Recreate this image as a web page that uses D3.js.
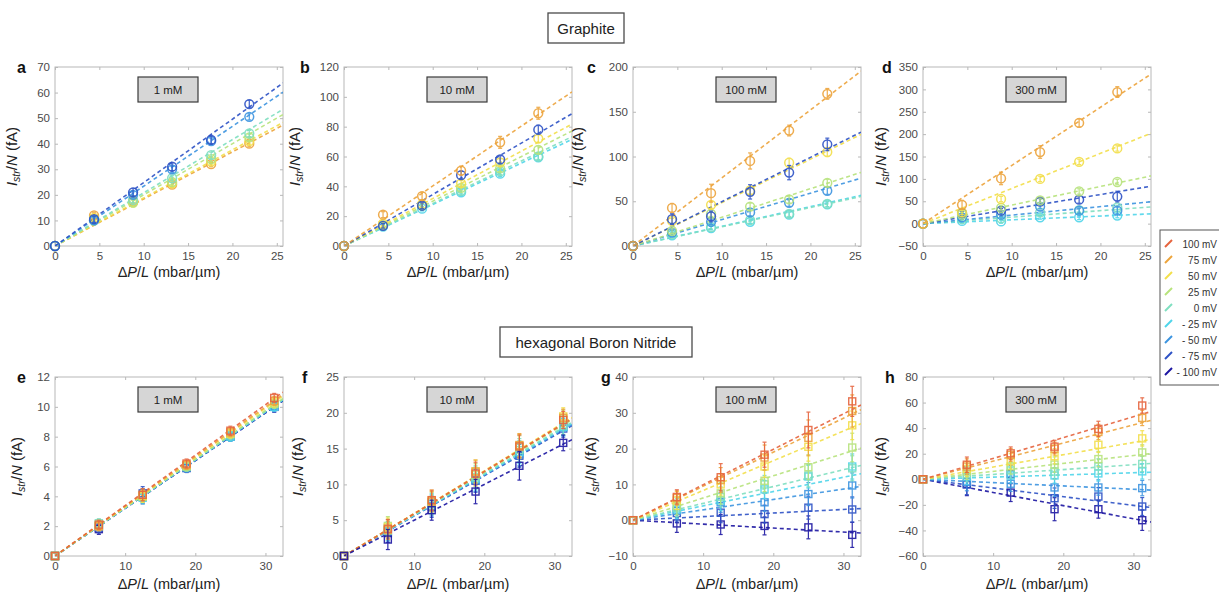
<!DOCTYPE html>
<html>
<head>
<meta charset="utf-8">
<script src="https://cdn.jsdelivr.net/npm/d3@7"></script>
<style>
  html, body { margin: 0; padding: 0; background: #fff; }
  svg { display: block; font-family: "Liberation Sans", Arial, Helvetica, sans-serif; }
</style>
</head>
<body>
<svg id="fig" width="1219" height="592"></svg>
<script>
// Bias voltages (legend order) and their colours
const voltLabels = ["100 mV", "75 mV", "50 mV", "25 mV", "0 mV", "- 25 mV", "- 50 mV", "- 75 mV", "- 100 mV"];
const voltColors = ["#e6643e", "#eda43c", "#f3df4a", "#b7e37c", "#7fdfc0", "#4fd5ea", "#3c94e0", "#2d52c6", "#1c16a2"];

// Pressure gradients (mbar/µm)
const graphiteX = [0, 4.4, 8.8, 13.2, 17.6, 21.9];
const hbnX = [0, 6.25, 12.5, 18.75, 25, 31.25];

// Graphite, 1 mM — vi = index into voltLabels
const graphite1 = [
  { vi: 1, y: [0, 12, 17.5, 24, 32, 40], err: [0, 1, 1, 1, 1, 1.2], slope: 1.84 },
  { vi: 2, y: [0, 11, 17, 24.5, 33, 41], err: [0, 1, 1, 1, 1, 1.2], slope: 1.88 },
  { vi: 3, y: [0, 10, 17, 25, 34, 42.5], err: [0, 1, 1, 1, 1, 1.2], slope: 2.0 },
  { vi: 4, y: [0, 10, 18, 26.5, 35.5, 44], err: [0, 1, 1, 1, 1.2, 1.2], slope: 2.08 },
  { vi: 6, y: [0, 10, 20, 30, 41, 50.5], err: [0, 1, 1.2, 1.2, 1.2, 1.2], slope: 2.34 },
  { vi: 7, y: [0, 10.5, 21, 31, 41.5, 55.5], err: [0, 1.2, 1.5, 1.5, 1.5, 1.5], slope: 2.48 }
];
// Graphite, 10 mM
const graphite10 = [
  { vi: 5, y: [0, 13, 25, 36, 48.5, 59.5], err: [0, 1.5, 1.5, 2, 2, 2], slope: 2.78 },
  { vi: 4, y: [0, 13.5, 27, 37, 50, 60], err: [0, 1.5, 1.5, 2, 2, 2], slope: 2.85 },
  { vi: 3, y: [0, 14, 27, 39, 52, 64.5], err: [0, 1.5, 1.5, 2, 2, 2.5], slope: 3.0 },
  { vi: 2, y: [0, 15, 28, 42, 56, 72], err: [0, 1.5, 2, 2, 2.5, 2.5], slope: 3.18 },
  { vi: 7, y: [0, 13.5, 27, 47.5, 58, 78], err: [0, 1.5, 2, 2.5, 2.5, 3], slope: 3.45 },
  { vi: 1, y: [0, 21, 33.5, 50.5, 69.5, 89], err: [0, 2, 2.5, 3, 4, 4], slope: 4.02 }
];
// Graphite, 100 mM
const graphite100 = [
  { vi: 5, y: [0, 12, 20, 27, 35, 46.5], err: [0, 2, 2, 2, 3, 3], slope: 2.2 },
  { vi: 4, y: [0, 13, 21, 29, 36, 47], err: [0, 2, 2, 2, 3, 3], slope: 2.15 },
  { vi: 6, y: [0, 15, 27, 37.5, 48.3, 61.7], err: [0, 3, 3, 4, 4, 4], slope: 2.95 },
  { vi: 3, y: [0, 17, 36, 44, 52, 70.5], err: [0, 3, 3, 4, 4, 4], slope: 3.2 },
  { vi: 2, y: [0, 28, 46, 62, 93, 105], err: [0, 3, 4, 4, 5, 5], slope: 4.85 },
  { vi: 7, y: [0, 30, 33, 60.5, 82, 113.5], err: [0, 6, 6, 8, 8, 7], slope: 4.95 },
  { vi: 1, y: [0, 42.5, 59, 95, 129, 170], err: [0, 5, 10, 9, 6, 6], slope: 7.6 }
];
// Graphite, 300 mM
const graphite300 = [
  { vi: 5, y: [0, 6, 5, 14, 14, 18], err: [0, 4, 4, 4, 5, 5], slope: 0.85 },
  { vi: 4, y: [0, 10, 12, 25, 30, 36], err: [0, 4, 4, 5, 5, 5], slope: 1.45 },
  { vi: 6, y: [0, 14, 20, 38, 29, 29], err: [0, 4, 5, 5, 6, 8], slope: 1.9 },
  { vi: 7, y: [0, 23.6, 29, 49, 53.6, 60.4], err: [0, 4, 5, 7, 8, 12], slope: 3.25 },
  { vi: 3, y: [0, 20, 35, 52, 72, 93], err: [0, 5, 5, 5, 6, 6], slope: 4.15 },
  { vi: 2, y: [0, 25, 55, 100, 138, 168], err: [0, 5, 6, 6, 6, 6], slope: 7.85 },
  { vi: 1, y: [0, 42, 101, 160, 225, 294], err: [0, 10, 14, 14, 9, 12], slope: 13.0 }
];

// hBN, 1 mM
const hbn1 = [
  { vi: 8, y: [0, 1.8, 4.0, 5.9, 8.1, 10.0], err: [0, 0.35, 0.5, 0.3, 0.3, 0.35], slope: 0.32 },
  { vi: 7, y: [0, 1.9, 4.2, 6.0, 8.0, 10.0], err: [0, 0.35, 0.45, 0.3, 0.3, 0.35], slope: 0.32 },
  { vi: 6, y: [0, 2.0, 4.0, 5.9, 8.0, 10.1], err: [0, 0.3, 0.4, 0.3, 0.3, 0.3], slope: 0.322 },
  { vi: 5, y: [0, 2.1, 3.9, 6.0, 8.0, 10.0], err: [0, 0.3, 0.4, 0.3, 0.3, 0.3], slope: 0.322 },
  { vi: 4, y: [0, 2.2, 4.0, 6.0, 8.1, 10.2], err: [0, 0.3, 0.4, 0.3, 0.3, 0.3], slope: 0.323 },
  { vi: 3, y: [0, 2.1, 4.0, 6.0, 8.2, 10.2], err: [0, 0.3, 0.4, 0.3, 0.3, 0.3], slope: 0.325 },
  { vi: 2, y: [0, 2.0, 4.0, 6.1, 8.2, 10.3], err: [0, 0.3, 0.4, 0.3, 0.3, 0.3], slope: 0.33 },
  { vi: 1, y: [0, 2.0, 4.1, 6.1, 8.3, 10.4], err: [0, 0.3, 0.4, 0.3, 0.3, 0.3], slope: 0.333 },
  { vi: 0, y: [0, 2.1, 4.1, 6.2, 8.4, 10.6], err: [0, 0.3, 0.4, 0.3, 0.3, 0.3], slope: 0.338 }
];
// hBN, 10 mM
const hbn10 = [
  { vi: 7, y: [0, 3.2, 6.8, 10.5, 14.0, 17.8], err: [0, 1.3, 1.4, 1.6, 1.6, 1.2], slope: 0.56 },
  { vi: 6, y: [0, 3.4, 7.0, 10.6, 14.2, 18.0], err: [0, 1.3, 1.4, 1.6, 1.6, 1.2], slope: 0.565 },
  { vi: 5, y: [0, 3.5, 7.3, 10.8, 14.5, 18.0], err: [0, 1.3, 1.4, 1.6, 1.6, 1.2], slope: 0.57 },
  { vi: 4, y: [0, 3.8, 7.2, 11.0, 14.8, 18.2], err: [0, 1.3, 1.4, 1.6, 1.6, 1.2], slope: 0.575 },
  { vi: 3, y: [0, 4.2, 7.5, 11.3, 15.2, 19.2], err: [0, 1.3, 1.4, 1.6, 1.6, 1.2], slope: 0.585 },
  { vi: 2, y: [0, 4.0, 7.8, 11.8, 15.4, 19.5], err: [0, 1.3, 1.4, 1.6, 1.6, 1.2], slope: 0.595 },
  { vi: 1, y: [0, 3.6, 7.6, 11.8, 15.5, 19.3], err: [0, 1.3, 1.4, 1.6, 1.6, 1.2], slope: 0.59 },
  { vi: 0, y: [0, 3.8, 7.8, 11.5, 15.3, 19.0], err: [0, 1.3, 1.4, 1.6, 1.6, 1.2], slope: 0.59 },
  { vi: 8, y: [0, 2.3, 6.4, 9.0, 12.6, 15.8], err: [0, 1.4, 1.4, 1.7, 2.0, 1.1], slope: 0.5 }
];
// hBN, 100 mM
const hbn100 = [
  { vi: 8, y: [0, -0.9, -1.2, -1.6, -2.0, -4.1], err: [0, 2.5, 2.8, 2.5, 3.2, 3.5], slope: -0.11 },
  { vi: 7, y: [0, 2.0, 2.1, 1.7, 3.5, 3.0], err: [0, 2.5, 2.8, 2.5, 3.2, 3.5], slope: 0.1 },
  { vi: 6, y: [0, 2.6, 5.0, 5.0, 7.3, 9.7], err: [0, 2.5, 2.8, 2.5, 3.2, 3.5], slope: 0.29 },
  { vi: 5, y: [0, 3.0, 5.5, 8.6, 12.2, 15.0], err: [0, 2.5, 2.8, 2.5, 3.2, 3.5], slope: 0.4 },
  { vi: 4, y: [0, 3.5, 6.5, 10.0, 12.5, 14.5], err: [0, 2.5, 2.8, 2.5, 3.2, 3.5], slope: 0.47 },
  { vi: 3, y: [0, 4.0, 7.5, 11.0, 14.8, 20.3], err: [0, 2.5, 3, 3, 3.5, 4], slope: 0.62 },
  { vi: 2, y: [0, 5.5, 10.0, 15.0, 20.5, 26.5], err: [0, 2.5, 3, 3, 4, 4], slope: 0.83 },
  { vi: 1, y: [0, 6.2, 11.2, 17.5, 23.0, 30.5], err: [0, 2, 3.5, 3.5, 5, 4.5], slope: 0.95 },
  { vi: 0, y: [0, 6.5, 12.0, 18.3, 25.2, 33.2], err: [0, 2, 3.8, 3.5, 5, 4.2], slope: 0.99 }
];
// hBN, 300 mM
const hbn300 = [
  { vi: 8, y: [0, -3.8, -10.4, -23.4, -23.4, -32], err: [0, 9, 7, 9, 7, 8], slope: -1.03 },
  { vi: 7, y: [0, -4, 4, -14.8, -13.5, -21.3], err: [0, 8, 7, 8, 7, 7], slope: -0.68 },
  { vi: 6, y: [0, -2, -3.5, -6.4, -6.4, -6.9], err: [0, 7, 6, 7, 6, 6], slope: -0.26 },
  { vi: 5, y: [0, 2, 3, 3, 4.6, 6.2], err: [0, 6, 6, 6, 6, 6], slope: 0.17 },
  { vi: 4, y: [0, 4, 7, 6, 10, 12], err: [0, 6, 6, 6, 6, 6], slope: 0.38 },
  { vi: 3, y: [0, 6, 10, 11.5, 15.8, 21], err: [0, 6, 6, 6, 6, 6], slope: 0.62 },
  { vi: 2, y: [0, 8, 14, 18, 27, 32], err: [0, 6, 6, 6, 6, 6], slope: 0.96 },
  { vi: 1, y: [0, 10, 19, 24, 37, 48], err: [0, 6, 5, 5, 6, 6], slope: 1.42 },
  { vi: 0, y: [0, 11.4, 20.3, 25.5, 39.4, 57.7], err: [0, 6, 5, 5, 6, 6], slope: 1.63 }
];

// Axis ranges and ticks
const xDomainGraphite = [0, 25.7];
const xTicksGraphite = [0, 5, 10, 15, 20, 25];
const xDomainHbn = [0, 32.5];
const xTicksHbn = [0, 10, 20, 30];
const yDomains = [[0, 70], [0, 120], [0, 200], [-50, 350], [0, 12], [0, 25], [-10, 40], [-60, 80]];
const yTickSteps = [10, 20, 50, 50, 2, 5, 10, 20];
const concentrations = ["1 mM", "10 mM", "100 mM", "300 mM", "1 mM", "10 mM", "100 mM", "300 mM"];
const panelLetters = ["a", "b", "c", "d", "e", "f", "g", "h"];
const panelSeries = [graphite1, graphite10, graphite100, graphite300, hbn1, hbn10, hbn100, hbn300];

// Layout
const lefts = [55, 344, 633, 923];
const plotW = 228;
const rowTop = [67, 377];
const plotH = 179;
const letterDx = [-38, -44, -46, -41, -38, -42, -32, -38];
const ylabDx = [-38, -44, -50, -37, -33, -41, -37, -37];
const xlabDy = [31, 33];

const svg = d3.select("#fig");
const FONT = '"Liberation Sans", Arial, Helvetica, sans-serif';
const frameColor = "#b8b8b8";
const tickTextColor = "#4a4a4a";

// Section title boxes
function titleBox(cx, y, w, h, label) {
  svg.append("rect").attr("x", cx - w / 2).attr("y", y).attr("width", w).attr("height", h)
    .attr("fill", "#fff").attr("stroke", "#4a4a4a").attr("stroke-width", 1.3);
  svg.append("text").attr("x", cx).attr("y", y + h / 2 + 5.5).attr("text-anchor", "middle")
    .attr("font-size", 15).attr("fill", "#222").text(label);
}
titleBox(586, 13, 76, 30, "Graphite");
titleBox(596, 327, 192, 30, "hexagonal Boron Nitride");

panelSeries.forEach((series, p) => {
  const row = p < 4 ? 0 : 1;
  const col = p % 4;
  const x0 = lefts[col], y0 = rowTop[row];
  const g = svg.append("g").attr("transform", `translate(${x0},${y0})`);
  const x = d3.scaleLinear().domain(row === 0 ? xDomainGraphite : xDomainHbn).range([0, plotW]);
  const y = d3.scaleLinear().domain(yDomains[p]).range([plotH, 0]);
  const xTicks = row === 0 ? xTicksGraphite : xTicksHbn;
  const xs = row === 0 ? graphiteX : hbnX;
  const yTicks = d3.range(yDomains[p][0], yDomains[p][1] + 1e-9, yTickSteps[p]);

  // axes (inward ticks, mirrored on top/right)
  const axB = g.append("g").attr("transform", `translate(0,${plotH})`)
    .call(d3.axisBottom(x).tickValues(xTicks).tickSize(-3).tickPadding(6).tickFormat(d3.format("d")));
  const axL = g.append("g")
    .call(d3.axisLeft(y).tickValues(yTicks).tickSize(-3).tickPadding(5).tickFormat(d3.format("d")));
  const axT = g.append("g").call(d3.axisTop(x).tickValues(xTicks).tickSize(-3).tickFormat(""));
  const axR = g.append("g").attr("transform", `translate(${plotW},0)`)
    .call(d3.axisRight(y).tickValues(yTicks).tickSize(-3).tickFormat(""));
  [axB, axL, axT, axR].forEach(a => {
    a.select(".domain").remove();
    a.selectAll("line").attr("stroke", frameColor);
    a.selectAll("text").attr("fill", tickTextColor).attr("font-size", 11.5).attr("font-family", FONT);
  });
  g.append("rect").attr("width", plotW).attr("height", plotH)
    .attr("fill", "none").attr("stroke", frameColor).attr("stroke-width", 1);

  // clip for fit lines
  const clipId = "clip" + p;
  g.append("clipPath").attr("id", clipId).append("rect").attr("width", plotW).attr("height", plotH);

  // linear fits
  const xMax = x.domain()[1];
  g.append("g").attr("clip-path", `url(#${clipId})`).selectAll("line")
    .data(series).join("line")
    .attr("x1", x(0)).attr("y1", y(0))
    .attr("x2", x(xMax)).attr("y2", d => y(d.slope * xMax))
    .attr("stroke", d => voltColors[d.vi]).attr("stroke-width", 1.6)
    .attr("stroke-dasharray", "4,3").attr("opacity", 0.9);

  // data points with error bars
  series.forEach(s => {
    const c = voltColors[s.vi];
    const pts = xs.map((xv, i) => ({ x: xv, y: s.y[i], e: s.err[i] }));
    const sg = g.append("g").attr("opacity", 0.9);
    sg.selectAll("line.eb").data(pts.filter(d => d.e > 0)).join("line")
      .attr("x1", d => x(d.x)).attr("x2", d => x(d.x))
      .attr("y1", d => y(d.y - d.e)).attr("y2", d => y(d.y + d.e))
      .attr("stroke", c).attr("stroke-width", 1.2);
    ["lo", "hi"].forEach(k => {
      sg.selectAll("line.cap" + k).data(pts.filter(d => d.e > 0)).join("line")
        .attr("x1", d => x(d.x) - 2).attr("x2", d => x(d.x) + 2)
        .attr("y1", d => y(k === "lo" ? d.y - d.e : d.y + d.e))
        .attr("y2", d => y(k === "lo" ? d.y - d.e : d.y + d.e))
        .attr("stroke", c).attr("stroke-width", 1.2);
    });
    if (row === 0) {
      sg.selectAll("circle").data(pts).join("circle")
        .attr("cx", d => x(d.x)).attr("cy", d => y(d.y)).attr("r", 4.4)
        .attr("fill", "none").attr("stroke", c).attr("stroke-width", 1.5);
    } else {
      sg.selectAll("rect").data(pts).join("rect")
        .attr("x", d => x(d.x) - 3.5).attr("y", d => y(d.y) - 3.5)
        .attr("width", 7).attr("height", 7)
        .attr("fill", "none").attr("stroke", c).attr("stroke-width", 1.4);
    }
  });

  // concentration tag
  const bw = 60, bh = 25;
  g.append("rect").attr("x", plotW / 2 - bw / 2 - 1).attr("y", 10).attr("width", bw).attr("height", bh)
    .attr("fill", "#d6d6d6").attr("stroke", "#3a3a3a").attr("stroke-width", 1.2);
  g.append("text").attr("x", plotW / 2 - 1).attr("y", 10 + bh / 2 + 4).attr("text-anchor", "middle")
    .attr("font-size", 11.5).attr("fill", "#222").text(concentrations[p]);

  // panel letter
  svg.append("text").attr("x", x0 + letterDx[p]).attr("y", y0 + 6)
    .attr("font-size", 16).attr("font-weight", "bold").attr("fill", "#111").text(panelLetters[p]);

  // x axis label: ΔP/L (mbar/µm)
  const xl = g.append("text").attr("x", plotW / 2).attr("y", plotH + xlabDy[row])
    .attr("text-anchor", "middle").attr("font-size", 14.5).attr("fill", "#222");
  xl.append("tspan").text("Δ");
  xl.append("tspan").attr("font-style", "italic").text("P");
  xl.append("tspan").text("/");
  xl.append("tspan").attr("font-style", "italic").text("L");
  xl.append("tspan").text(" (mbar/µm)");

  // y axis label: I_str/N (fA)
  const yl = svg.append("text")
    .attr("transform", `translate(${x0 + ylabDx[p]},${y0 + plotH / 2}) rotate(-90)`)
    .attr("text-anchor", "middle").attr("font-size", 15).attr("fill", "#222");
  yl.append("tspan").attr("font-style", "italic").text("I");
  yl.append("tspan").attr("font-style", "italic").attr("font-size", 10.5).attr("dy", 3).text("str");
  yl.append("tspan").attr("dy", -3).text("/");
  yl.append("tspan").attr("font-style", "italic").text("N");
  yl.append("tspan").text(" (fA)");
});

// Legend
const lg = svg.append("g");
lg.append("rect").attr("x", 1160).attr("y", 230).attr("width", 70).attr("height", 155)
  .attr("fill", "#fff").attr("stroke", "#555").attr("stroke-width", 1);
voltLabels.forEach((lab, i) => {
  const yy = 244 + i * 16;
  lg.append("line").attr("x1", 1165).attr("y1", yy + 3).attr("x2", 1172).attr("y2", yy - 4)
    .attr("stroke", voltColors[i]).attr("stroke-width", 2);
  lg.append("text").attr("x", 1217).attr("y", yy + 3.5).attr("text-anchor", "end")
    .attr("font-size", 10).attr("fill", "#333").text(lab);
});
</script>
</body>
</html>
